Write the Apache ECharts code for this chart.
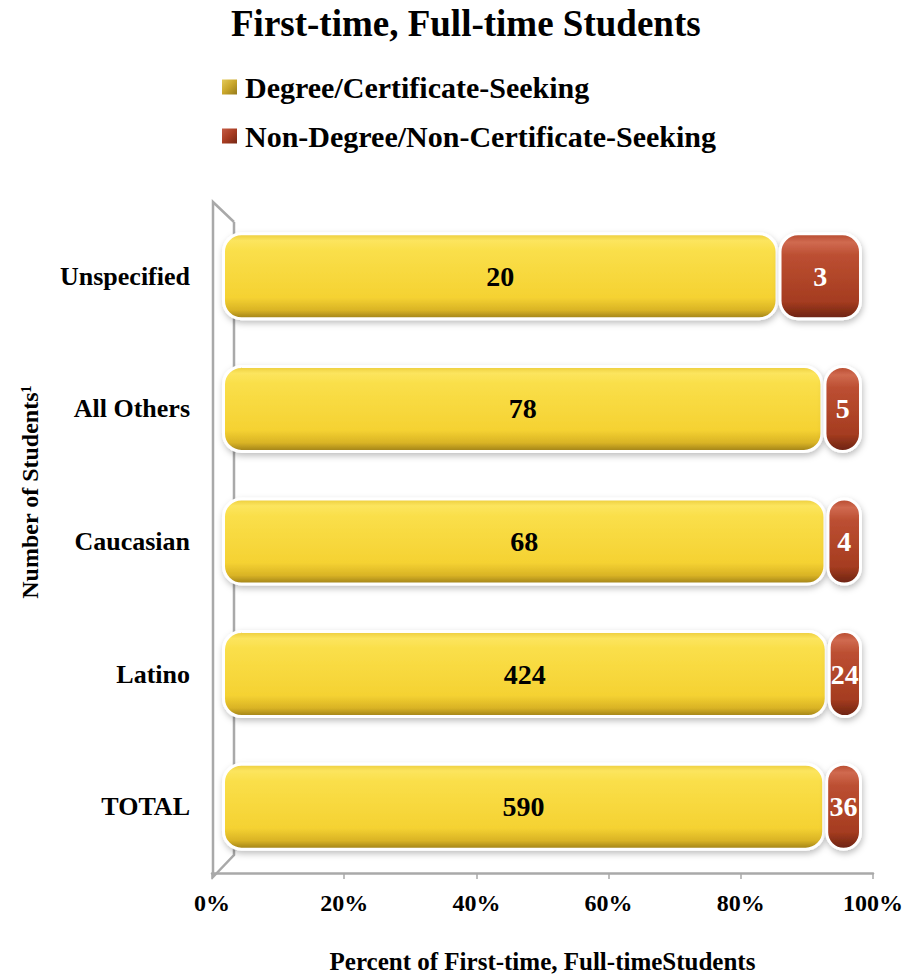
<!DOCTYPE html>
<html>
<head>
<meta charset="utf-8">
<script src="https://cdn.jsdelivr.net/npm/echarts@6/dist/echarts.min.js"></script>
<style>
html,body{margin:0;padding:0;background:#fff;}
#chart{width:915px;height:979px;}
</style>
</head>
<body>
<div id="chart"></div>
<script>
var categories = ['TOTAL', 'Latino', 'Caucasian', 'All Others', 'Unspecified'];
var degreeCounts = [590, 424, 68, 78, 20];
var nonDegreeCounts = [36, 24, 4, 5, 3];
var xTicks = [0, 20, 40, 60, 80, 100];
var seriesNames = ['Degree/Certificate-Seeking', 'Non-Degree/Non-Certificate-Seeking'];

var FONT = '"Liberation Serif", "Times New Roman", serif';

function pct(a, b) { return a.map(function (v, i) { return v / (v + b[i]) * 100; }); }
var degreePct = pct(degreeCounts, nonDegreeCounts);
var nonDegreePct = pct(nonDegreeCounts, degreeCounts);

var gold = new echarts.graphic.LinearGradient(0, 0, 0, 1, [
  {offset: 0, color: '#EBCB3A'},
  {offset: 0.08, color: '#FCE55E'},
  {offset: 0.2, color: '#FADF4A'},
  {offset: 0.75, color: '#F5D232'},
  {offset: 0.9, color: '#D9B325'},
  {offset: 1, color: '#9C7E18'}
]);
var red = new echarts.graphic.LinearGradient(0, 0, 0, 1, [
  {offset: 0, color: '#B6492C'},
  {offset: 0.1, color: '#D06A50'},
  {offset: 0.25, color: '#BC4F32'},
  {offset: 0.8, color: '#A53C20'},
  {offset: 1, color: '#6A2210'}
]);
var goldIcon = new echarts.graphic.LinearGradient(0, 0, 1, 1, [
  {offset: 0, color: '#E8D060'}, {offset: 0.5, color: '#C9A62A'}, {offset: 1, color: '#8E7418'}
]);
var redIcon = new echarts.graphic.LinearGradient(0, 0, 1, 1, [
  {offset: 0, color: '#C8604A'}, {offset: 0.5, color: '#A83C22'}, {offset: 1, color: '#6E2412'}
]);

var chart = echarts.init(document.getElementById('chart'), null, {renderer: 'svg'});
chart.setOption({
  backgroundColor: '#fff',
  animation: false,
  title: {
    text: 'First-time, Full-time Students',
    left: 231,
    top: 5,
    padding: 0,
    textStyle: {fontFamily: FONT, fontWeight: 'bold', fontSize: 37, color: '#000'}
  },
  legend: {
    orient: 'vertical',
    left: 220,
    top: 71,
    padding: 0,
    itemGap: 17,
    itemWidth: 17,
    itemHeight: 17,
    icon: 'rect',
    data: [
      {name: seriesNames[0], itemStyle: {color: goldIcon}},
      {name: seriesNames[1], itemStyle: {color: redIcon}}
    ],
    textStyle: {fontFamily: FONT, fontWeight: 'bold', fontSize: 30, color: '#000', lineHeight: 32, padding: [0, 0, 0, 2]}
  },
  grid: {left: 212, right: 42, top: 210, bottom: 102},
  xAxis: [
    {
      type: 'value', min: 0, max: 100, interval: 20,
      axisLine: {show: true, lineStyle: {color: '#A9A9A9', width: 2.5}},
      axisTick: {show: true, length: 6, lineStyle: {color: '#A9A9A9', width: 1.5}},
      splitLine: {show: false},
      axisLabel: {
        formatter: function (v) { return v + '%'; },
        margin: 18,
        fontFamily: FONT, fontWeight: 'bold', fontSize: 24, color: '#000'
      },
      name: 'Percent of First-time, Full-timeStudents',
      nameLocation: 'middle',
      nameGap: 76,
      nameTextStyle: {fontFamily: FONT, fontWeight: 'bold', fontSize: 25, color: '#000'}
    },
    {
      type: 'value', min: -1.5625, max: 101.72, show: false,
      splitLine: {show: false}
    }
  ],
  yAxis: {
    type: 'category',
    data: categories,
    axisLine: {show: false},
    axisTick: {show: false},
    axisLabel: {margin: 22, fontFamily: FONT, fontWeight: 'bold', fontSize: 26, color: '#000'}
  },
  graphic: [
    {
      type: 'polyline',
      silent: true,
      z: 0,
      shape: {points: [[234, 222], [213, 202], [213, 877], [234, 855], [234, 222]]},
      style: {fill: 'none', stroke: '#A9A9A9', lineWidth: 2.5}
    },
    {
      type: 'text',
      x: 30, y: 492,
      rotation: Math.PI / 2,
      style: {
        text: 'Number of Students¹',
        fontFamily: FONT, fontWeight: 'bold', fontSize: 24, fill: '#000',
        align: 'center', verticalAlign: 'middle'
      }
    }
  ],
  series: [
    {
      name: seriesNames[0],
      type: 'bar',
      stack: 'total',
      xAxisIndex: 1,
      barWidth: 88,
      data: degreePct,
      itemStyle: {
        color: gold, borderRadius: 18, borderColor: '#fff', borderWidth: 3,
        shadowBlur: 6, shadowColor: 'rgba(0,0,0,0.25)', shadowOffsetY: 3, shadowOffsetX: 1
      },
      label: {
        show: true, position: 'inside',
        formatter: function (p) { return degreeCounts[p.dataIndex]; },
        fontFamily: FONT, fontWeight: 'bold', fontSize: 28, color: '#000'
      }
    },
    {
      name: seriesNames[1],
      type: 'bar',
      stack: 'total',
      xAxisIndex: 1,
      barWidth: 88,
      data: nonDegreePct,
      itemStyle: {
        color: red, borderRadius: 18, borderColor: '#fff', borderWidth: 3,
        shadowBlur: 6, shadowColor: 'rgba(0,0,0,0.25)', shadowOffsetY: 3, shadowOffsetX: 1
      },
      label: {
        show: true, position: 'inside',
        formatter: function (p) { return nonDegreeCounts[p.dataIndex]; },
        fontFamily: FONT, fontWeight: 'bold', fontSize: 28, color: '#fff'
      }
    }
  ]
});
</script>
</body>
</html>
